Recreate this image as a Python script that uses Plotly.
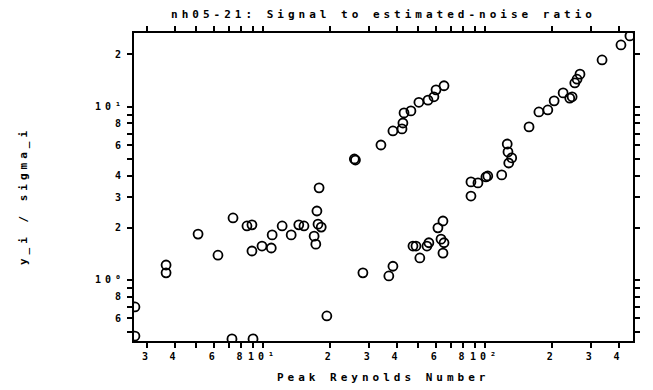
import plotly.graph_objects as go

# Peak Reynolds number and signal-to-noise ratio, grouped by branch
re_low = [2.65, 2.65, 3.66, 3.66, 5.10, 6.27, 7.33, 8.47, 8.92, 8.92, 9.90, 10.9, 11.0,
          12.2, 13.4, 14.5, 15.3, 17.5, 17.7, 18.3, 17.0, 17.3, 17.9, 19.4, 7.25, 9.02]
snr_low = [0.699, 0.475, 1.22, 1.10, 1.84, 1.39, 2.28, 2.05, 2.08, 1.47, 1.57, 1.53, 1.82,
           2.05, 1.82, 2.08, 2.05, 2.50, 2.10, 2.02, 1.79, 1.61, 3.40, 0.62, 0.457, 0.457]

re_mid = [25.8, 26.1, 28.2, 34.0, 36.9, 38.5, 38.5, 42.3, 42.7, 43.2, 46.4, 47.4, 48.9,
          50.4, 50.9, 54.8, 55.9, 55.4, 58.9, 60.2, 61.4, 63.4, 64.7, 64.7, 65.4, 65.4]
snr_mid = [4.99, 4.92, 1.10, 6.01, 1.055, 1.20, 7.24, 7.44, 8.05, 9.20, 9.45, 1.57, 1.57,
           10.6, 1.34, 1.57, 1.64, 10.9, 11.4, 12.5, 2.00, 1.72, 2.19, 1.43, 13.2, 1.64]

re_high = [86.5, 86.5, 93.0, 101, 103, 119, 126, 127, 132, 128, 158, 175, 192, 205, 225,
           241, 247, 254, 260, 268, 337, 410, 450]
snr_high = [3.05, 3.68, 3.63, 3.93, 3.98, 4.04, 6.09, 5.48, 5.06, 4.73, 7.64, 9.32, 9.57,
            10.8, 12.0, 11.2, 11.4, 13.7, 14.4, 15.4, 18.6, 22.7, 25.6]

# Log-axis ticks: labels at 2,3,4,6,8 and the decades, bare ticks at 5,7,9
x_tickvals = [3, 4, 6, 8, 10, 20, 30, 40, 60, 80, 100, 200, 300, 400]
x_ticktext = ["3", "4", "6", "8", "10¹", "2", "3", "4", "6", "8", "10²", "2", "3", "4"]
x_minorvals = [5, 7, 9, 50, 70, 90]
y_tickvals = [0.6, 0.8, 1, 2, 3, 4, 6, 8, 10, 20]
y_ticktext = ["6", "8", "10⁰", "2", "3", "4", "6", "8", "10¹", "2"]
y_minorvals = [0.5, 0.7, 0.9, 5, 7, 9]

FONT = "DejaVu Sans Mono"

fig = go.Figure()
for xs, ys in [(re_low, snr_low), (re_mid, snr_mid), (re_high, snr_high)]:
    fig.add_trace(go.Scatter(
        x=xs, y=ys, mode="markers",
        marker=dict(symbol="circle-open", size=9, color="black",
                    line=dict(width=1.8, color="black")),
        showlegend=False,
    ))

axis_common = dict(
    type="log", showgrid=False, zeroline=False,
    showline=True, linecolor="black", linewidth=2,
    ticks="outside", ticklen=5, tickwidth=1.6, tickcolor="black",
    mirror="allticks", tickmode="array",
    tickfont=dict(family=FONT, size=10, color="black", weight="bold"),
)
minor_common = dict(ticks="outside", ticklen=5, tickwidth=1.6, tickcolor="black",
                    showgrid=False, tickmode="array")

fig.update_xaxes(range=[0.419, 2.667], tickvals=x_tickvals, ticktext=x_ticktext,
                 minor=dict(tickvals=x_minorvals, **minor_common), **axis_common)
fig.update_yaxes(range=[-0.352, 1.425], tickvals=y_tickvals, ticktext=y_ticktext,
                 minor=dict(tickvals=y_minorvals, **minor_common), **axis_common)

fig.update_layout(
    width=653, height=390,
    margin=dict(l=134, r=20, t=33, b=49),
    paper_bgcolor="white", plot_bgcolor="white",
    title=dict(text="nh05-21: Signal to estimated-noise ratio",
               x=0.5, xref="paper", y=1 - 14 / 390, yref="container",
               xanchor="center", yanchor="middle",
               font=dict(family=FONT, size=11, color="black", weight="bold")),
    annotations=[
        dict(text="Peak Reynolds Number", xref="paper", yref="paper",
             x=0.5, y=0, yshift=-36, xanchor="center", yanchor="middle",
             showarrow=False,
             font=dict(family=FONT, size=11, color="black", weight="bold")),
        dict(text="y_i / sigma_i", xref="paper", yref="paper",
             x=0, y=0.5, xshift=-111, yshift=-9, textangle=-90,
             xanchor="center", yanchor="middle", showarrow=False,
             font=dict(family=FONT, size=11, color="black", weight="bold")),
    ],
)

# Widen the character spacing of all labels to the plotter's lettering
spacing_js = """
var gd = document.getElementById('{plot_id}');
function widen() {
  gd.querySelectorAll('text').forEach(function (t) { t.style.letterSpacing = '4px'; });
}
widen();
gd.on('plotly_afterplot', widen);
"""

fig.write_html("out.html", post_script=spacing_js)
